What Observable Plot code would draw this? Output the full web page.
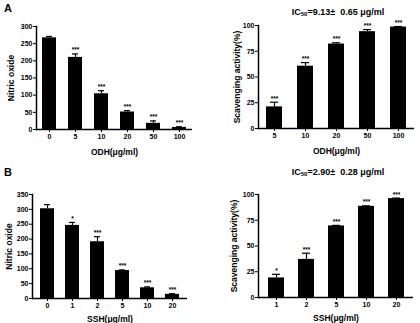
<!DOCTYPE html>
<html>
<head>
<meta charset="utf-8">
<script src="https://cdn.jsdelivr.net/npm/d3@7"></script>
<script src="https://cdn.jsdelivr.net/npm/@observablehq/plot@0.6"></script>
<style>
  html, body { margin: 0; padding: 0; background: #fff; }
  #root { position: relative; width: 420px; height: 323px; overflow: hidden; font-family: "Liberation Sans", Arial, sans-serif; }
  #root svg { position: absolute; overflow: visible; }
  .lbl { position: absolute; font-weight: bold; color: #000; white-space: nowrap; line-height: 1; }
  .title { font-size: 9px; transform: translateX(-50%); }
  .title sub { font-size: 6px; vertical-align: -1px; }
  .letter { font-size: 11px; }
</style>
</head>
<body>
<div id="root"></div>
<script>
// ---------- data ----------
// Panel A (left): nitric oxide vs ODH concentration
const odhDoseNO = ["0", "5", "10", "20", "50", "100"];
const odhNO = [267, 210, 104, 51, 18, 6];
const odhNOErr = [4, 10, 9, 4, 7, 2];
const odhNOSig = ["", "***", "***", "***", "***", "***"];
const odhNOTicks = [0, 50, 100, 150, 200, 250, 300];

// Panel A (right): scavenging activity vs ODH concentration
const odhDoseSc = ["5", "10", "20", "50", "100"];
const odhSc = [21, 60.5, 82, 94, 98.5];
const odhScErr = [4.5, 3.5, 1.2, 2, 0.5];
const odhScSig = ["***", "***", "***", "***", "***"];
const scTicks = [0, 25, 50, 75, 100];

// Panel B (left): nitric oxide vs SSH concentration
const sshDoseNO = ["0", "1", "2", "5", "10", "20"];
const sshNO = [302, 246, 191, 94, 36, 14];
const sshNOErr = [14, 10, 17, 2, 3, 2];
const sshNOSig = ["", "*", "***", "***", "***", "***"];
const sshNOTicks = [0, 50, 100, 150, 200, 250, 300, 350];

// Panel B (right): scavenging activity vs SSH concentration
const sshDoseSc = ["1", "2", "5", "10", "20"];
const sshSc = [19, 37, 69.5, 88.5, 96];
const sshScErr = [3.5, 6, 0.5, 0.5, 0.5];
const sshScSig = ["*", "***", "***", "***", "***"];

// ---------- drawing ----------
const root = document.getElementById("root");

function panel({doses, values, errs, sigs, yMax, yTicks, yLabel, xLabel,
                left, top, width, height, mL, mR, mT, mB, pInner, pOuter, yLabelDx, xLabelDy}) {
  const rows = doses.map((d, i) => ({dose: d, v: values[i], hi: values[i] + errs[i], sig: sigs[i]}));
  const svg = Plot.plot({
    width, height,
    marginLeft: mL, marginRight: mR, marginTop: mT, marginBottom: mB,
    style: {fontFamily: "'Liberation Sans', Arial, sans-serif", fontWeight: "bold", fontSize: "7px", color: "#000", background: "transparent"},
    x: {type: "band", domain: doses, paddingInner: pInner, paddingOuter: pOuter},
    y: {domain: [0, yMax]},
    marks: [
      Plot.barY(rows, {x: "dose", y: "v", fill: "#000"}),
      Plot.ruleX(rows, {x: "dose", y1: "v", y2: "hi", stroke: "#000", strokeWidth: 1.2}),
      Plot.tickY(rows, {x: "dose", y: "hi", stroke: "#000", strokeWidth: 1.2, insetLeft: 4, insetRight: 4}),
      Plot.text(rows, {x: "dose", y: "hi", text: "sig", fontSize: 6.5, lineAnchor: "bottom", dy: -1.5, fill: "#000"}),
      Plot.frame({anchor: "left", stroke: "#000", strokeWidth: 1.5}),
      Plot.ruleY([0], {stroke: "#000", strokeWidth: 1.5}),
      Plot.axisY({ticks: yTicks, tickSize: 3, tickPadding: 1, label: null, tickFormat: d => String(d)}),
      Plot.axisX({tickSize: 3, tickPadding: 2, label: null}),
      Plot.text([yLabel], {frameAnchor: "left", rotate: -90, dx: yLabelDx, textAnchor: "middle", lineAnchor: "middle", fontSize: 8.5, fill: "#000"}),
      Plot.text([xLabel], {frameAnchor: "bottom", dy: xLabelDy, textAnchor: "middle", lineAnchor: "middle", fontSize: 8.5, fill: "#000"})
    ]
  });
  svg.style.left = left + "px";
  svg.style.top = top + "px";
  root.appendChild(svg);
}

panel({doses: odhDoseNO, values: odhNO, errs: odhNOErr, sigs: odhNOSig, yMax: 300, yTicks: odhNOTicks,
  yLabel: "Nitric oxide", xLabel: "ODH(μg/ml)",
  left: 0, top: 0, width: 210, height: 160, mL: 36, mR: 18, mT: 26, mB: 31, pInner: 0.45, pOuter: 0.225,
  yLabelDx: -25, xLabelDy: 23});

panel({doses: odhDoseSc, values: odhSc, errs: odhScErr, sigs: odhScSig, yMax: 100, yTicks: scTicks,
  yLabel: "Scavenging activity(%)", xLabel: "ODH(μg/ml)",
  left: 210, top: 0, width: 210, height: 160, mL: 48, mR: 6, mT: 25, mB: 32, pInner: 0.47, pOuter: 0.25,
  yLabelDx: -21, xLabelDy: 23});

panel({doses: sshDoseNO, values: sshNO, errs: sshNOErr, sigs: sshNOSig, yMax: 350, yTicks: sshNOTicks,
  yLabel: "Nitric oxide", xLabel: "SSH(μg/ml)",
  left: 0, top: 163, width: 210, height: 160, mL: 32, mR: 23, mT: 31, mB: 25, pInner: 0.45, pOuter: 0.225,
  yLabelDx: -23, xLabelDy: 21});

panel({doses: sshDoseSc, values: sshSc, errs: sshScErr, sigs: sshScSig, yMax: 100, yTicks: scTicks,
  yLabel: "Scavenging activity(%)", xLabel: "SSH(μg/ml)",
  left: 210, top: 163, width: 210, height: 160, mL: 48, mR: 7, mT: 31, mB: 26, pInner: 0.47, pOuter: 0.25,
  yLabelDx: -24, xLabelDy: 21});

// titles and panel letters
function label(html, cls, x, y) {
  const d = document.createElement("div");
  d.className = "lbl " + cls;
  d.innerHTML = html;
  d.style.left = x + "px";
  d.style.top = y + "px";
  root.appendChild(d);
}
label("A", "letter", 4, 3);
label("B", "letter", 4, 167);
label("IC<sub>50</sub>=9.13±&nbsp; 0.65 μg/ml", "title", 338, 8);
label("IC<sub>50</sub>=2.90±&nbsp; 0.28 μg/ml", "title", 338, 168);
</script>
</body>
</html>
